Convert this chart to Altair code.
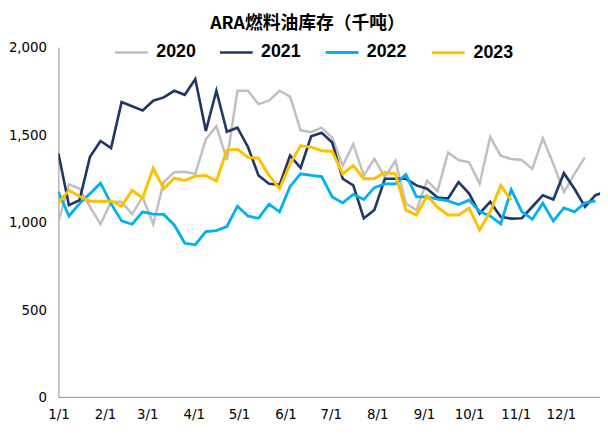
import altair as alt
import pandas as pd

years = ["2020", "2021", "2022", "2023"]
colors = ["#BFBFBF", "#1F3864", "#00B0F0", "#FFC000"]
widths = [2.5, 3, 2.5, 5]

v2020 = [1002, 1215, 1190, 1087, 987, 1115, 1115, 1045, 1143, 987, 1228, 1284, 1287, 1275,
         1473, 1548, 1354, 1750, 1750, 1674, 1693, 1750, 1717, 1524, 1513, 1539, 1482, 1322,
         1444, 1266, 1360, 1256, 1350, 1105, 1068, 1237, 1176, 1397, 1354, 1341, 1218, 1486,
         1379, 1360, 1354, 1303, 1478, 1331, 1171, 1275, 1369]
v2021 = [1392, 1096, 1124, 1373, 1463, 1422, 1685, 1661, 1637, 1693, 1712, 1750, 1727, 1817,
         1520, 1750, 1516, 1539, 1429, 1266, 1218, 1212, 1379, 1309, 1490, 1510, 1454, 1247,
         1209, 1021, 1068, 1247, 1247, 1247, 1209, 1190, 1140, 1134, 1228, 1162, 1049, 1115,
         1030, 1019, 1021, 1087, 1153, 1128, 1279, 1190, 1087, 1153, 1175]
v2022 = [1171, 1034, 1105, 1162, 1222, 1105, 1006, 987, 1058, 1045, 1043, 983, 878, 870,
         945, 951, 974, 1090, 1034, 1021, 1102, 1058, 1203, 1275, 1266, 1260, 1143, 1109,
         1158, 1128, 1196, 1218, 1218, 1271, 1143, 1143, 1130, 1120, 1100, 1125, 1060, 1035,
         989, 1185, 1060, 1015, 1107, 1005, 1080, 1058, 1109, 1120]
v2023 = [1109, 1181, 1147, 1119, 1119, 1119, 1090, 1181, 1137, 1307, 1190, 1250, 1237, 1262,
         1266, 1234, 1411, 1416, 1369, 1365, 1266, 1190, 1331, 1435, 1428, 1407, 1403, 1275,
         1322, 1247, 1247, 1284, 1275, 1068, 1040, 1150, 1084, 1040, 1040, 1079, 955, 1058,
         1209, 1124]

month_days = [0, 31, 59, 90, 120, 151, 181, 212, 243, 273, 304, 334]
month_labels = ["1/1", "2/1", "3/1", "4/1", "5/1", "6/1", "7/1", "8/1", "9/1", "10/1", "11/1", "12/1"]
y_ticks = [0, 500, 1000, 1500, 2000]

rows = []
for y, vals in zip(years, [v2020, v2021, v2022, v2023]):
    for i, v in enumerate(vals):
        rows.append({"year": y, "day": i * 7, "value": v})
df = pd.DataFrame(rows)

label_expr = "[" + ",".join("'%s'" % s for s in month_labels) + "][indexof([" + \
    ",".join(str(d) for d in month_days) + "], datum.value)]"

axis_font = "DejaVu Sans Condensed, Liberation Sans, Arial, sans-serif"
legend_font = "Liberation Sans, Arial, sans-serif"

chart = alt.Chart(df).mark_line(clip=True, strokeJoin="miter").encode(
    x=alt.X("day:Q", scale=alt.Scale(domain=[0, 360], nice=False, zero=False),
            axis=alt.Axis(values=month_days, labelExpr=label_expr, title=None, grid=False,
                          ticks=False, domainColor="#8C8C8C", labelPadding=10,
                          labelFont=axis_font, labelFontSize=15, labelColor="#000000",
                          labelFlush=False, labelOverlap=False)),
    y=alt.Y("value:Q", scale=alt.Scale(domain=[0, 2000], nice=False),
            axis=alt.Axis(values=y_ticks, format=",.0f", title=None, grid=False,
                          ticks=False, domainColor="#8C8C8C", labelPadding=12,
                          labelFont=axis_font, labelFontSize=15, labelColor="#000000")),
    color=alt.Color("year:N", scale=alt.Scale(domain=years, range=colors),
                    legend=alt.Legend(title=None, orient="none", legendX=56, legendY=-13,
                                      direction="horizontal", symbolType="stroke",
                                      symbolSize=1100, symbolStrokeWidth=4.5,
                                      labelFont=legend_font, labelFontSize=18,
                                      labelFontWeight="bold", labelColor="#000000",
                                      labelOffset=7, columnPadding=18)),
    strokeWidth=alt.StrokeWidth("year:N", scale=alt.Scale(domain=years, range=widths), legend=None),
).properties(
    width=548,
    height=354,
    padding={"left": 51, "top": 37, "right": 0, "bottom": 32},
    autosize=alt.AutoSizeParams(type="none"),
    title=alt.TitleParams("ARA燃料油库存（千吨）", font="Noto Sans CJK SC", fontSize=18,
                          fontWeight="bold", color="#000000", anchor="middle",
                          baseline="middle", offset=3, dy=11, dx=-22),
).configure_view(stroke=None)

chart.save("out.html", embed_options={"renderer": "svg", "actions": False})
